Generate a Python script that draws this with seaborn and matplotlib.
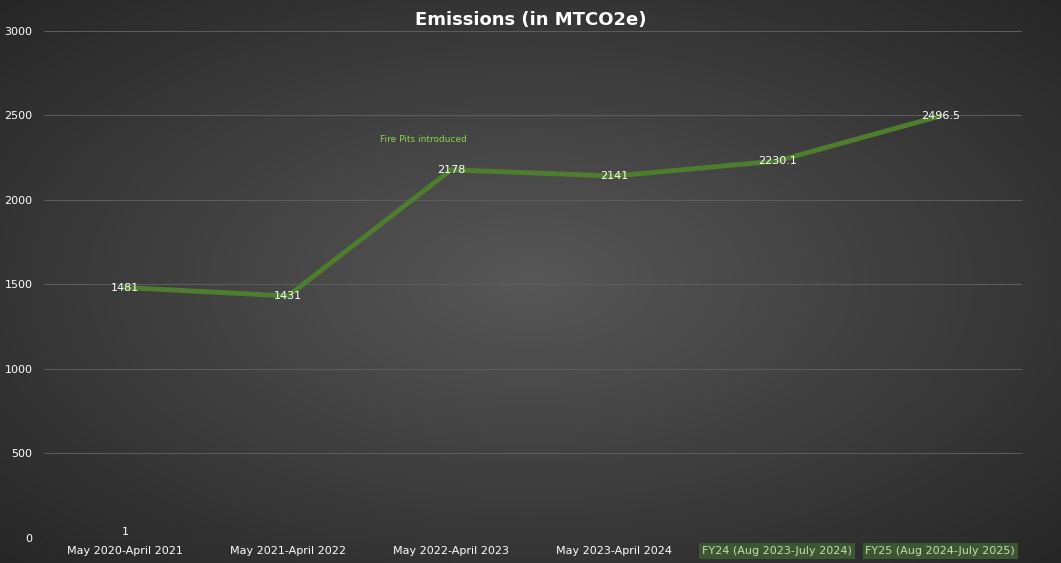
import numpy as np
import pandas as pd
import seaborn as sns
import matplotlib.pyplot as plt
from matplotlib.colors import LinearSegmentedColormap

periods = ['May 2020-April 2021', 'May 2021-April 2022', 'May 2022-April 2023',
           'May 2023-April 2024', 'FY24 (Aug 2023-July 2024)', 'FY25 (Aug 2024-July 2025)']
emissions = [1481, 1431, 2178, 2141, 2230.1, 2496.5]
point_labels = ['1481', '1431', '2178', '2141', '2230.1', '2496.5']
df = pd.DataFrame({'period': periods, 'emissions': emissions})

sns.set_style('dark')
plt.rcParams['font.family'] = ['DejaVu Sans']
fig = plt.figure(figsize=(10.61, 5.63), dpi=100)

# radial gradient background
bg = fig.add_axes([0, 0, 1, 1], zorder=-1)
yy, xx = np.mgrid[-1:1:300j, -1:1:560j]
r = np.sqrt(xx**2 + yy**2)
cmap = LinearSegmentedColormap.from_list('bg', ['#575757', '#262626'])
bg.imshow(r, cmap=cmap, vmin=0, vmax=1.414, aspect='auto')
bg.axis('off')

ax = fig.add_axes([0.041, 0.045, 0.922, 0.9])
ax.patch.set_alpha(0)
sns.lineplot(data=df, x=np.arange(len(periods)), y='emissions', ax=ax,
             color='#4e7d2e', linewidth=3.5)
for i, (v, lab) in enumerate(zip(emissions, point_labels)):
    ax.text(i, v, lab, color='white', fontsize=8, ha='center', va='center')
ax.text(0, 1, '1', color='white', fontsize=8, ha='center', va='bottom')
ax.text(1.83, 2340, 'Fire Pits introduced', color='#92d050', fontsize=6.5, ha='center')

ax.set_xlim(-0.5, 5.5)
ax.set_ylim(0, 3000)
ax.set_yticks(range(0, 3001, 500))
ax.tick_params(axis='y', colors='white', labelsize=8, length=0, pad=8)
ax.set_xticks(range(len(periods)))
ax.set_xticklabels(periods, color='white', fontsize=8)
ax.tick_params(axis='x', length=0, pad=6)
for t in ax.get_xticklabels()[4:]:
    t.set_bbox(dict(facecolor='#3d5632', edgecolor='none', pad=2))
    t.set_color('#c8d8b8')
ax.grid(axis='y', color='#5e5e5e', linewidth=0.7)
ax.grid(axis='x', visible=False)
for s in ax.spines.values():
    s.set_visible(False)
ax.axhline(0, color='#6e6e6e', linewidth=0.8)
ax.set_xlabel('')
ax.set_ylabel('')
fig.text(0.5, 0.955, 'Emissions (in MTCO2e)', color='white', fontsize=13,
         fontweight='bold', ha='center')
fig.savefig('out.png', dpi=100)
